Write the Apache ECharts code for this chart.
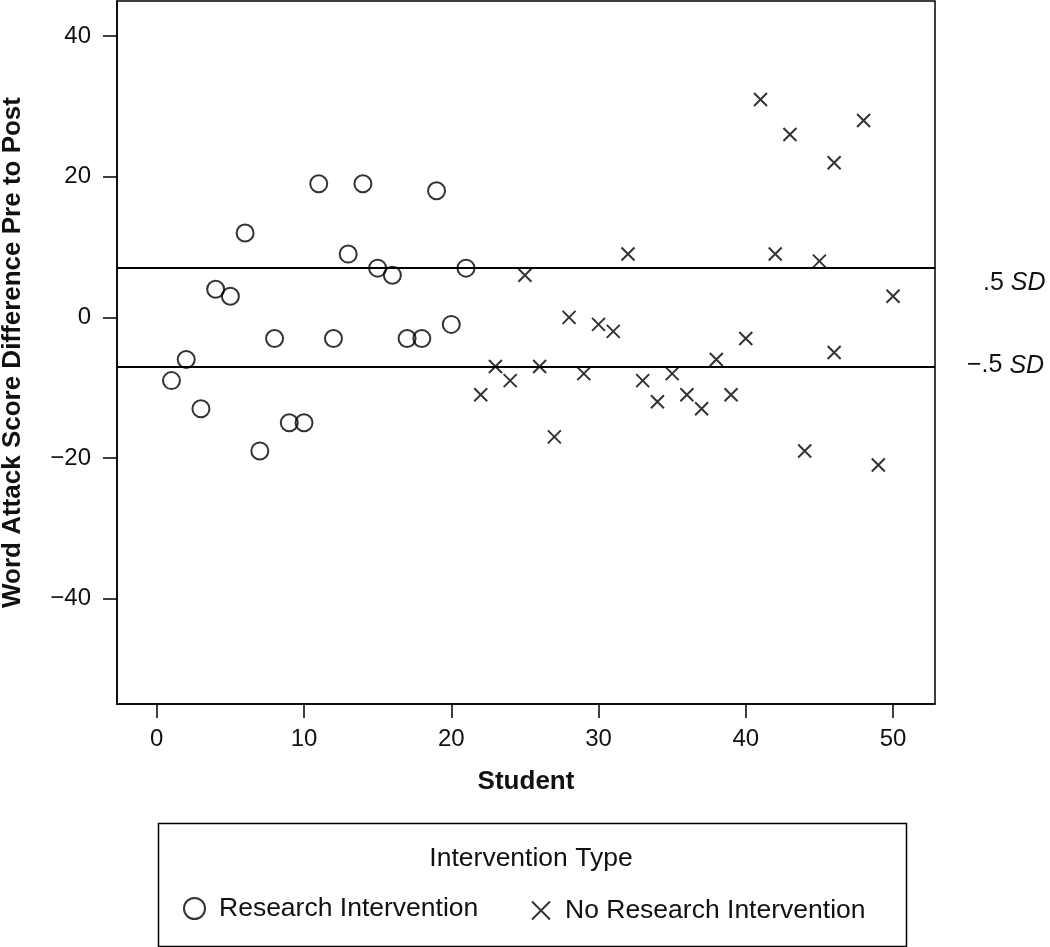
<!DOCTYPE html>
<html>
<head>
<meta charset="utf-8">
<script src="https://cdn.jsdelivr.net/npm/echarts@6/dist/echarts.min.js"></script>
<style>
html,body{margin:0;padding:0;background:#fff;}
#chart{width:1050px;height:947px;}
</style>
</head>
<body>
<div id="chart"></div>
<script>
// Data
const researchStudents = [1,2,3,4,5,6,7,8,9,10,11,12,13,14,15,16,17,18,19,20,21];
const researchDiffs    = [-9,-6,-13,4,3,12,-19,-3,-15,-15,19,-3,9,19,7,6,-3,-3,18,-1,7];
const noResearchStudents = [22,23,24,25,26,27,28,29,30,31,32,33,34,35,36,37,38,39,40,41,42,43,44,45,46,46,48,49,50];
const noResearchDiffs    = [-11,-7,-9,6,-7,-17,0,-8,-1,-2,9,-9,-12,-8,-11,-13,-6,-11,-3,31,9,26,-19,8,22,-5,28,-21,3];
const sdLines = [7, -7];
const sdLabels = ['.5 ', '\u2212.5 '];
const xTicks = [0,10,20,30,40,50];
const yTicks = [-40,-20,0,20,40];
const seriesNames = ['Research Intervention','No Research Intervention'];
const legendTitle = 'Intervention Type';
const xTitle = 'Student';
const yTitle = 'Word Attack Score Difference Pre to Post';

const FONT = '"Liberation Sans", Arial, Helvetica, sans-serif';
const chart = echarts.init(document.getElementById('chart'));
const crossPath = 'path://M0,0L10,10M10,0L0,10';

const option = {
  animation: false,
  backgroundColor: '#fff',
  textStyle: { fontFamily: FONT, color: '#000' },
  grid: {
    left: 117, right: 115, top: 1, bottom: 243,
    outerBoundsMode: 'none', containLabel: false,
    show: true, borderColor: '#000', borderWidth: 1.5, backgroundColor: 'transparent'
  },
  title: {
    text: legendTitle,
    left: 531, top: 845, textAlign: 'center', padding: 0,
    textStyle: { fontFamily: FONT, fontWeight: 'normal', fontSize: 26.5, color: '#111' }
  },
  graphic: [{
    type: 'rect', left: 156, top: 821,
    shape: { width: 748, height: 123 },
    style: { fill: 'none', stroke: '#000', lineWidth: 1.5 }
  }],
  legend: [
    {
      data: [seriesNames[0]], left: 183, top: 895,
      itemWidth: 21, itemHeight: 21, itemGap: 10, padding: 0,
      textStyle: { fontFamily: FONT, fontSize: 26.5, color: '#111', padding: [0,0,0,9] },
      itemStyle: { color: 'rgba(0,0,0,0)', borderColor: '#000', borderWidth: 2 }
    },
    {
      data: [seriesNames[1]], left: 531, top: 897,
      itemWidth: 18, itemHeight: 18, itemGap: 10, padding: 0,
      textStyle: { fontFamily: FONT, fontSize: 26.5, color: '#111', padding: [0,0,0,10] },
      itemStyle: { color: 'rgba(0,0,0,0)', borderColor: '#000', borderWidth: 2 }
    }
  ],
  xAxis: {
    type: 'value', min: -2.7, max: 52.85,
    name: xTitle, nameLocation: 'middle', nameGap: 65,
    nameTextStyle: { fontFamily: FONT, fontWeight: 'bold', fontSize: 26, color: '#111' },
    axisLine: { show: true, onZero: false, lineStyle: { color: '#000', width: 1.5 } },
    axisTick: { show: true, customValues: xTicks, length: 14, lineStyle: { color: '#000', width: 1.5 } },
    axisLabel: { customValues: xTicks, margin: 23, fontFamily: FONT, fontSize: 24, color: '#111' },
    splitLine: { show: false }
  },
  yAxis: {
    type: 'value', min: -55, max: 45,
    name: yTitle, nameLocation: 'middle', nameGap: 91,
    nameTextStyle: { fontFamily: FONT, fontWeight: 'bold', fontSize: 26, color: '#111' },
    axisLine: { show: true, onZero: false, lineStyle: { color: '#000', width: 1.5 } },
    axisTick: { show: true, customValues: yTicks, length: 14, lineStyle: { color: '#000', width: 1.5 } },
    axisLabel: {
      customValues: yTicks, margin: 26, fontFamily: FONT, fontSize: 24, color: '#111',
      formatter: v => (v < 0 ? '\u2212' + Math.abs(v) : String(v))
    },
    splitLine: { show: false }
  },
  series: [
    {
      name: seriesNames[0], type: 'scatter',
      data: researchStudents.map((s, i) => [s, researchDiffs[i]]),
      symbol: 'circle', symbolSize: 17,
      itemStyle: { color: 'rgba(0,0,0,0)', borderColor: '#000', borderWidth: 2 },
      markLine: {
        silent: true, symbol: 'none',
        lineStyle: { color: '#000', width: 2, type: 'solid' },
        label: {
          show: true, position: 'end', fontFamily: FONT, fontSize: 25, color: '#111',
          rich: {
            n: { fontFamily: FONT, fontSize: 25, color: '#111' },
            i: { fontFamily: FONT, fontSize: 25, color: '#111', fontStyle: 'italic' }
          }
        },
        data: sdLines.map((v, k) => ({
          yAxis: v,
          label: {
            distance: k === 0 ? 48 : 32,
            offset: k === 0 ? [0, 15] : [0, -1],
            formatter: '{n|' + sdLabels[k] + '}{i|SD}'
          }
        }))
      }
    },
    {
      name: seriesNames[1], type: 'scatter',
      data: noResearchStudents.map((s, i) => [s, noResearchDiffs[i]]),
      symbol: crossPath, symbolSize: 13,
      itemStyle: { color: 'rgba(0,0,0,0)', borderColor: '#000', borderWidth: 2 }
    }
  ]
};
chart.setOption(option);
</script>
</body>
</html>
